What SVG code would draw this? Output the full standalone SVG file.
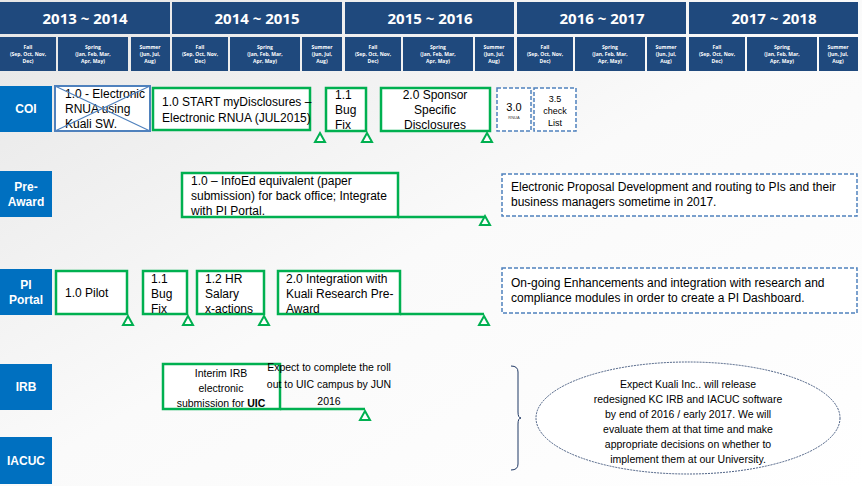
<svg xmlns="http://www.w3.org/2000/svg" width="862" height="486" viewBox="0 0 862 486">
<defs>
<linearGradient id="bg" x1="0" y1="0" x2="1" y2="1"><stop offset="0" stop-color="#e6e6e6"/><stop offset="0.5" stop-color="#fafafa"/><stop offset="1" stop-color="#ffffff"/></linearGradient>
<style>
.yr{fill:#1f497d}
.yt{font:bold 15px "Open Sans","DejaVu Sans",sans-serif;fill:#fff;text-anchor:middle}
.st{font:bold 5px "Open Sans","DejaVu Sans",sans-serif;fill:#fff;text-anchor:middle}
.lab{fill:#0070c0}
.lt{font:bold 12px "Liberation Sans",sans-serif;fill:#fff;text-anchor:middle}
.gb{fill:#fff;stroke:#00b050;stroke-width:2.5}
.gl{fill:none;stroke:#00b050;stroke-width:2.5}
.tri{fill:#fff;stroke:#00b050;stroke-width:2}
.db{fill:#fff;stroke:#4f81bd;stroke-width:1.5;stroke-dasharray:4 2}
.t{font:12px "Liberation Sans",sans-serif;fill:#000}
.n{font:11px "Liberation Sans",sans-serif;fill:#000;text-anchor:middle}
</style>
</defs>
<rect width="862" height="486" fill="url(#bg)"/>
<g id="header">
<rect class="yr" x="0" y="2" width="170" height="32"/><text class="yt" x="85" y="24">2013 ~ 2014</text>
<rect class="yr" x="172" y="2" width="170" height="32"/><text class="yt" x="257" y="24">2014 ~ 2015</text>
<rect class="yr" x="345" y="2" width="169" height="32"/><text class="yt" x="430" y="24">2015 ~ 2016</text>
<rect class="yr" x="517" y="2" width="169" height="32"/><text class="yt" x="602" y="24">2016 ~ 2017</text>
<rect class="yr" x="689" y="2" width="169" height="32"/><text class="yt" x="774" y="24">2017 ~ 2018</text>
<g id="subs">
<rect class="yr" x="0" y="37" width="56" height="34"/><rect class="yr" x="58" y="37" width="70" height="34"/><rect class="yr" x="131" y="37" width="39" height="34"/>
<rect class="yr" x="172" y="37" width="56" height="34"/><rect class="yr" x="230" y="37" width="70" height="34"/><rect class="yr" x="302" y="37" width="40" height="34"/>
<rect class="yr" x="345" y="37" width="56" height="34"/><rect class="yr" x="403" y="37" width="70" height="34"/><rect class="yr" x="475" y="37" width="39" height="34"/>
<rect class="yr" x="517" y="37" width="56" height="34"/><rect class="yr" x="575" y="37" width="70" height="34"/><rect class="yr" x="647" y="37" width="39" height="34"/>
<rect class="yr" x="689" y="37" width="56" height="34"/><rect class="yr" x="747" y="37" width="70" height="34"/><rect class="yr" x="819" y="37" width="39" height="34"/>
</g>
<g id="subtext">
<text class="st" x="28" y="49">Fall<tspan x="28" dy="7">(Sep, Oct, Nov,</tspan><tspan x="28" dy="7">Dec)</tspan></text>
<text class="st" x="93" y="49">Spring<tspan x="93" dy="7">(Jan, Feb, Mar,</tspan><tspan x="93" dy="7">Apr, May)</tspan></text>
<text class="st" x="150" y="49">Summer<tspan x="150" dy="7">(Jun, Jul,</tspan><tspan x="150" dy="7">Aug)</tspan></text>
<text class="st" x="200" y="49">Fall<tspan x="200" dy="7">(Sep, Oct, Nov,</tspan><tspan x="200" dy="7">Dec)</tspan></text>
<text class="st" x="265" y="49">Spring<tspan x="265" dy="7">(Jan, Feb, Mar,</tspan><tspan x="265" dy="7">Apr, May)</tspan></text>
<text class="st" x="322" y="49">Summer<tspan x="322" dy="7">(Jun, Jul,</tspan><tspan x="322" dy="7">Aug)</tspan></text>
<text class="st" x="373" y="49">Fall<tspan x="373" dy="7">(Sep, Oct, Nov,</tspan><tspan x="373" dy="7">Dec)</tspan></text>
<text class="st" x="438" y="49">Spring<tspan x="438" dy="7">(Jan, Feb, Mar,</tspan><tspan x="438" dy="7">Apr, May)</tspan></text>
<text class="st" x="494" y="49">Summer<tspan x="494" dy="7">(Jun, Jul,</tspan><tspan x="494" dy="7">Aug)</tspan></text>
<text class="st" x="545" y="49">Fall<tspan x="545" dy="7">(Sep, Oct, Nov,</tspan><tspan x="545" dy="7">Dec)</tspan></text>
<text class="st" x="610" y="49">Spring<tspan x="610" dy="7">(Jan, Feb, Mar,</tspan><tspan x="610" dy="7">Apr, May)</tspan></text>
<text class="st" x="666" y="49">Summer<tspan x="666" dy="7">(Jun, Jul,</tspan><tspan x="666" dy="7">Aug)</tspan></text>
<text class="st" x="717" y="49">Fall<tspan x="717" dy="7">(Sep, Oct, Nov,</tspan><tspan x="717" dy="7">Dec)</tspan></text>
<text class="st" x="782" y="49">Spring<tspan x="782" dy="7">(Jan, Feb, Mar,</tspan><tspan x="782" dy="7">Apr, May)</tspan></text>
<text class="st" x="838" y="49">Summer<tspan x="838" dy="7">(Jun, Jul,</tspan><tspan x="838" dy="7">Aug)</tspan></text>
</g>
</g>
<g id="labels">
<rect class="lab" x="0" y="86" width="52" height="46"/><text class="lt" x="26" y="113">COI</text>
<rect class="lab" x="0" y="171" width="52" height="46"/><text class="lt" x="26" y="191">Pre-<tspan x="26" dy="15">Award</tspan></text>
<rect class="lab" x="0" y="269" width="52" height="46"/><text class="lt" x="26" y="289">PI<tspan x="26" dy="15">Portal</tspan></text>
<rect class="lab" x="0" y="364" width="52" height="46"/><text class="lt" x="26" y="391">IRB</text>
<rect class="lab" x="0" y="437" width="52" height="47"/><text class="lt" x="26" y="465">IACUC</text>
</g>
<g id="connectors">
<path class="gl" d="M398 217 H485"/>
<path class="gl" d="M400 314 H484"/>
<path class="gl" d="M280 409 H365"/>
<path class="tri" d="M320 133 l5 9 h-10 z"/>
<path class="tri" d="M367 133 l5 9 h-10 z"/>
<path class="tri" d="M487 133 l5 9 h-10 z"/>
<path class="tri" d="M485 216 l5 9 h-10 z"/>
<path class="tri" d="M128 316 l5 9 h-10 z"/>
<path class="tri" d="M188 316 l5 9 h-10 z"/>
<path class="tri" d="M264 316 l5 9 h-10 z"/>
<path class="tri" d="M484 316 l5 9 h-10 z"/>
<path class="tri" d="M365 411 l5 9 h-10 z"/>
</g>
<g id="coi-1">
<rect x="55" y="86" width="95" height="45" fill="#fff" stroke="#4f81bd" stroke-width="2"/>
<text class="t" x="65" y="98">1.0 - Electronic<tspan x="65" dy="15">RNUA using</tspan><tspan x="65" dy="15">Kuali SW.</tspan></text>
<path d="M55 86 L150 131 M150 86 L55 131" stroke="#4f81bd" stroke-width="1.2"/>
</g>
<g id="coi-2"><rect class="gb" x="153" y="88" width="157" height="42"/><text class="t" x="162" y="106">1.0 START myDisclosures  –<tspan x="162" dy="16">Electronic RNUA (JUL2015)</tspan></text></g>
<g id="coi-3"><rect class="gb" x="326" y="88" width="40" height="43"/><text class="t" x="335" y="99">1.1<tspan x="335" dy="15">Bug</tspan><tspan x="335" dy="15">Fix</tspan></text></g>
<g id="coi-4"><rect class="gb" x="381" y="88" width="109" height="43"/><text class="t" x="435" y="99" text-anchor="middle">2.0  Sponsor<tspan x="435" dy="15">Specific</tspan><tspan x="435" dy="15">Disclosures</tspan></text></g>
<g id="coi-5"><rect class="db" x="497" y="88" width="34" height="43"/><text class="n" x="514" y="111">3.0</text><text x="514" y="119" text-anchor="middle" style="font:4px 'Liberation Sans',sans-serif;fill:#333">RNUA</text></g>
<g id="coi-6"><rect class="db" x="534" y="88" width="42" height="43"/><text class="n" x="555" y="102" style="font-size:9px">3.5<tspan x="555" dy="12">check</tspan><tspan x="555" dy="12">List</tspan></text></g>
<g id="pre-1"><rect class="gb" x="182" y="173" width="216" height="44"/><text class="t" x="191" y="185">1.0 –  InfoEd equivalent (paper<tspan x="191" dy="15">submission) for back office; Integrate</tspan><tspan x="191" dy="15">with PI Portal.</tspan></text></g>
<g id="pre-2"><rect class="db" x="502" y="174" width="355" height="42"/><text class="t" x="511" y="191">Electronic Proposal Development and routing to PIs and their<tspan x="511" dy="15">business managers sometime in 2017.</tspan></text></g>
<g id="pi-1"><rect class="gb" x="56" y="271" width="71" height="43"/><text class="t" x="65" y="297">1.0 Pilot</text></g>
<g id="pi-2"><rect class="gb" x="143" y="271" width="44" height="43"/><text class="t" x="151" y="283">1.1<tspan x="151" dy="15">Bug</tspan><tspan x="151" dy="15">Fix</tspan></text></g>
<g id="pi-3"><rect class="gb" x="197" y="271" width="67" height="43"/><text class="t" x="205" y="283">1.2 HR<tspan x="205" dy="15">Salary</tspan><tspan x="205" dy="15">x-actions</tspan></text></g>
<g id="pi-4"><rect class="gb" x="278" y="271" width="122" height="43"/><text class="t" x="286" y="283">2.0 Integration with<tspan x="286" dy="15">Kuali Research  Pre-</tspan><tspan x="286" dy="15">Award</tspan></text></g>
<g id="pi-5"><rect class="db" x="502" y="268" width="355" height="45"/><text class="t" x="511" y="287">On-going Enhancements and integration  with research and<tspan x="511" dy="15">compliance modules in order to create a PI Dashboard.</tspan></text></g>
<g id="irb-1"><rect class="gb" x="163" y="364" width="117" height="45"/><text class="n" x="221" y="377" style="font-size:10.5px">Interim IRB<tspan x="221" dy="15">electronic</tspan><tspan x="221" dy="15">submission for <tspan font-weight="bold">UIC</tspan></tspan></text></g>
<g id="irb-note"><text class="n" x="329" y="371" style="font-size:10.5px">Expect to complete the roll<tspan x="329" dy="17">out to UIC campus by JUN</tspan><tspan x="329" dy="17">2016</tspan></text></g>
<g id="brace"><path d="M511 366 Q518 366 518 372 V412 Q518 418 521 418 Q518 418 518 424 V464 Q518 470 511 470" fill="none" stroke="#1f3864" stroke-width="1"/></g>
<g id="kuali-note">
<ellipse cx="688" cy="418" rx="152" ry="56" fill="#fff" stroke="#1f3864" stroke-width="0.8" stroke-dasharray="2 1"/>
<text class="n" x="688" y="388" style="font-size:10.5px">Expect Kuali Inc.. will  release<tspan x="688" dy="15">redesigned KC IRB and IACUC software</tspan><tspan x="688" dy="15">by end of 2016 / early 2017. We will</tspan><tspan x="688" dy="15">evaluate them at that time and make</tspan><tspan x="688" dy="15">appropriate decisions on  whether to</tspan><tspan x="688" dy="15">implement them at our University.</tspan></text>
</g>
</svg>
